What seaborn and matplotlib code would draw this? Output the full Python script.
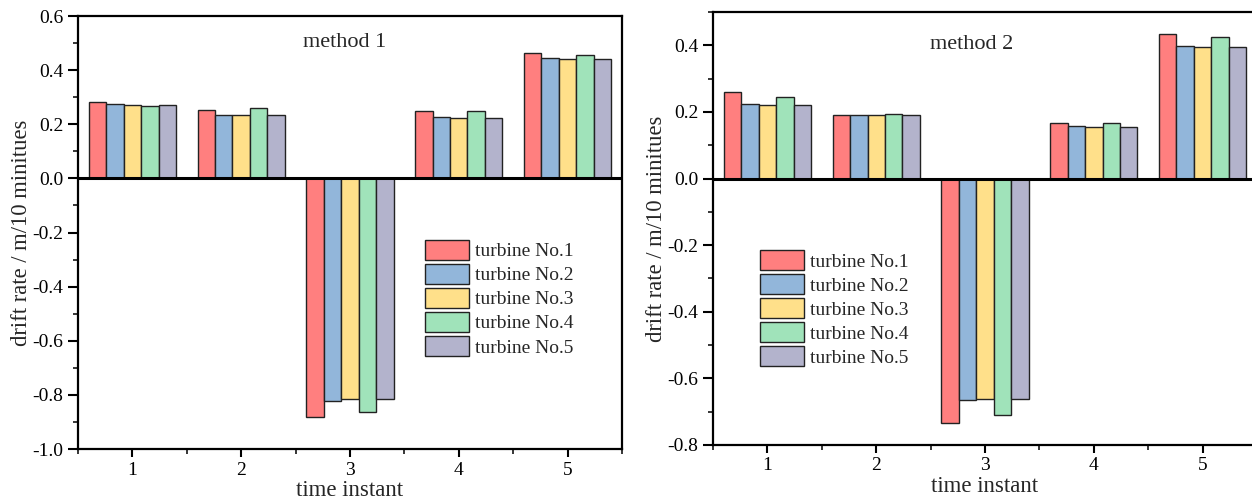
import numpy as np
import pandas as pd
import matplotlib
matplotlib.use("Agg")
import matplotlib.pyplot as plt
import seaborn as sns
from matplotlib.ticker import MultipleLocator, FixedLocator, FuncFormatter

time_instants = ["1", "2", "3", "4", "5"]
turbines = ["turbine No.1", "turbine No.2", "turbine No.3", "turbine No.4", "turbine No.5"]

# method 1 values: one list per turbine, entries = time instants 1..5
m1_t1 = [0.282, 0.254, -0.882, 0.250, 0.463]
m1_t2 = [0.275, 0.233, -0.821, 0.227, 0.446]
m1_t3 = [0.271, 0.234, -0.816, 0.225, 0.443]
m1_t4 = [0.267, 0.260, -0.862, 0.248, 0.456]
m1_t5 = [0.270, 0.235, -0.816, 0.225, 0.442]

# method 2 values
m2_t1 = [0.259, 0.191, -0.734, 0.167, 0.435]
m2_t2 = [0.225, 0.192, -0.666, 0.157, 0.398]
m2_t3 = [0.221, 0.192, -0.661, 0.156, 0.394]
m2_t4 = [0.246, 0.193, -0.711, 0.166, 0.424]
m2_t5 = [0.222, 0.192, -0.661, 0.156, 0.394]

colors = ["#FF7F7F", "#92B6DA", "#FFE08A", "#A0E3BA", "#B3B3CC"]

def long_df(series):
    rows = []
    for turb, vals in zip(turbines, series):
        for t, v in zip(time_instants, vals):
            rows.append({"time": t, "turbine": turb, "value": v})
    return pd.DataFrame(rows)

df1 = long_df([m1_t1, m1_t2, m1_t3, m1_t4, m1_t5])
df2 = long_df([m2_t1, m2_t2, m2_t3, m2_t4, m2_t5])

sns.set_style("ticks")
plt.rcParams["font.family"] = ["Liberation Serif", "DejaVu Serif"]

fig = plt.figure(figsize=(12.52, 5.04), dpi=100)
ax1 = fig.add_axes([0.0623, 0.1091, 0.4345, 0.8591])
ax2 = fig.add_axes([0.5695, 0.1171, 0.4345, 0.8591])

panels = [
    (ax1, df1, (-1.0, 0.6), "method 1", (0.49, 0.94), (0.638, 0.483)),
    (ax2, df2, (-0.8, 0.5), "method 2", (0.476, 0.926), (0.086, 0.450)),
]

for ax, df, ylim, title, tpos, lpos in panels:
    sns.barplot(data=df, x="time", y="value", hue="turbine", hue_order=turbines,
                order=time_instants, palette=colors, width=0.8,
                edgecolor="#222222", linewidth=1.0, saturation=1, ax=ax, errorbar=None)
    ax.set_xlim(-0.5, 4.5)
    ax.set_ylim(*ylim)
    ax.axhline(0, color="black", lw=2.2, zorder=5)
    for s in ax.spines.values():
        s.set_linewidth(1.6)
        s.set_color("black")
    ax.yaxis.set_major_locator(MultipleLocator(0.2))
    ax.yaxis.set_minor_locator(MultipleLocator(0.1))
    ax.xaxis.set_minor_locator(FixedLocator([-0.5, 0.5, 1.5, 2.5, 3.5, 4.5]))
    ax.yaxis.set_major_formatter(FuncFormatter(lambda v, p: f"{v:.1f}"))
    ax.tick_params(axis="y", which="major", direction="out", length=7, width=1.5,
                   labelsize=14, colors="black")
    ax.tick_params(axis="x", which="major", direction="out", length=5.5, width=1.5,
                   labelsize=14, colors="black")
    ax.tick_params(axis="both", which="minor", direction="out", length=3.5, width=1.3)
    ax.set_xlabel("time instant", fontsize=16.5, labelpad=1)
    ax.set_ylabel("drift rate / m/10 minitues", fontsize=16.3, labelpad=0)
    ax.text(tpos[0], tpos[1], title, transform=ax.transAxes, ha="center", va="center",
            fontsize=16)
    leg = ax.legend(loc="upper left", bbox_to_anchor=lpos, frameon=False, fontsize=14,
                    handlelength=2.27, handleheight=1.2, labelspacing=0.18,
                    handletextpad=0.3, borderpad=0, borderaxespad=0, title=None)
    for h in leg.legend_handles:
        h.set_edgecolor("#222222")
        h.set_linewidth(1.0)

fig.savefig("out.png", dpi=100)
